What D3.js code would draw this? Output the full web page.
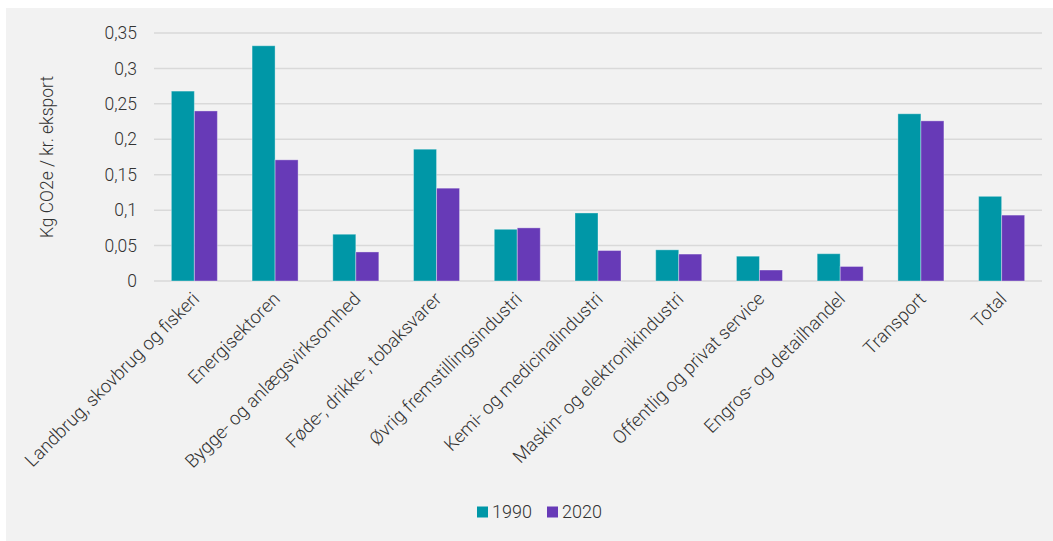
<!DOCTYPE html>
<html>
<head>
<meta charset="utf-8">
<script src="https://cdn.jsdelivr.net/npm/d3@7"></script>
<style>
	body { margin: 0; background: #ffffff; }
	svg { display: block; font-family: "Roboto Light", Roboto, "Open Sans", sans-serif; font-weight: 300; }
	.axis path, .axis line { display: none; }
	.axis text { fill: #333333; font-family: "Roboto Light", Roboto, sans-serif; }
</style>
</head>
<body>
<div class="bar-chart"></div>
<script>
var CATEGORIES = [
	"Landbrug, skovbrug og fiskeri",
	"Energisektoren",
	"Bygge- og anlægsvirksomhed",
	"Føde-, drikke-, tobaksvarer",
	"Øvrig fremstillingsindustri",
	"Kemi- og medicinalindustri",
	"Maskin- og elektronikindustri",
	"Offentlig og privat service",
	"Engros- og detailhandel",
	"Transport",
	"Total"
];
var SERIES = ["1990", "2020"];
var VALUES_1990 = [0.268, 0.332, 0.066, 0.186, 0.073, 0.096, 0.044, 0.035, 0.0385, 0.236, 0.1195];
var VALUES_2020 = [0.240, 0.171, 0.041, 0.131, 0.075, 0.043, 0.038, 0.0155, 0.0205, 0.226, 0.093];
var Y_TICKS = [0, 0.05, 0.1, 0.15, 0.2, 0.25, 0.3, 0.35];
var COLORS = ["#0097a7", "#673ab7"];

var W = 1053, H = 541;
var margin = { top: 33, right: 11, bottom: 260, left: 154 },
	width = W - margin.left - margin.right,
	height = H - margin.top - margin.bottom;

var svg = d3.select(".bar-chart").append("svg")
	.attr("width", W)
	.attr("height", H);

// grey panel
svg.append("rect")
	.attr("x", 6).attr("y", 8)
	.attr("width", W - 6).attr("height", H - 8)
	.attr("fill", "#f2f2f2");

var g = svg.append("g")
	.attr("transform", "translate(" + margin.left + "," + margin.top + ")");

var x0 = d3.scaleBand().domain(CATEGORIES).range([0, width]).paddingInner(0.43).paddingOuter(0.215);
var x1 = d3.scaleBand().domain(SERIES).range([0, x0.bandwidth()]);
var y = d3.scaleLinear().domain([0, 0.35]).range([height, 0]);

var fmt = function ( d ) {
	return String(d).replace(".", ",");
};

// gridlines
g.selectAll(".grid")
	.data(Y_TICKS)
	.enter()
	.append("line")
	.attr("class", "grid")
	.attr("x1", 0).attr("x2", width)
	.attr("y1", function ( d ) { return y(d); })
	.attr("y2", function ( d ) { return y(d); })
	.attr("stroke", "#d9d9d9")
	.attr("stroke-width", 1.5);

var yAxis = g.append("g").attr("class", "axis")
	.call(d3.axisLeft(y).tickValues(Y_TICKS).tickFormat(fmt).tickSize(0).tickPadding(17));
yAxis.selectAll("text").style("font-size", "17.5px");

// bars
var rows = CATEGORIES.map(function ( c, i ) {
	return { cat: c, vals: [VALUES_1990[i], VALUES_2020[i]] };
});

var groups = g.selectAll(".group")
	.data(rows)
	.enter()
	.append("g")
	.attr("class", "group")
	.attr("transform", function ( d ) { return "translate(" + x0(d.cat) + ",0)"; });

groups.selectAll("rect")
	.data(function ( d ) {
		return SERIES.map(function ( s, j ) { return { key: s, value: d.vals[j], idx: j }; });
	})
	.enter()
	.append("rect")
	.attr("x", function ( d ) { return x1(d.key); })
	.attr("y", function ( d ) { return y(d.value); })
	.attr("width", x1.bandwidth())
	.attr("height", function ( d ) { return height - y(d.value); })
	.attr("fill", function ( d ) { return COLORS[d.idx]; })
	.attr("stroke", "rgba(255,255,255,0.35)")
	.attr("stroke-width", 1);

// category labels, rotated
var xAxis = g.append("g").attr("class", "axis")
	.attr("transform", "translate(0," + height + ")")
	.call(d3.axisBottom(x0).tickSize(0).tickPadding(0));
xAxis.selectAll("text")
	.style("font-size", "18.5px")
	.attr("text-anchor", "end")
	.attr("dy", null)
	.attr("transform", "translate(6,19) rotate(-45)");

// y axis label
svg.append("text")
	.attr("text-anchor", "middle")
	.attr("transform", "translate(" + 53 + "," + 157 + ")rotate(-90)")
	.attr("fill", "#333333")
	.style("font-size", "17.5px")
	.text("Kg CO2e / kr. eksport");

// legend
var legend = svg.append("g").attr("transform", "translate(477,512)");
var items = legend.selectAll(".item")
	.data(SERIES)
	.enter()
	.append("g")
	.attr("transform", function ( d, i ) { return "translate(" + (i * 70) + ",0)"; });
items.append("rect")
	.attr("x", 0).attr("y", -5.5)
	.attr("width", 11).attr("height", 11)
	.attr("fill", function ( d, i ) { return COLORS[i]; });
items.append("text")
	.attr("x", 15).attr("y", 6)
	.attr("fill", "#333333")
	.style("font-size", "18px")
	.text(function ( d ) { return d; });
</script>
</body>
</html>
